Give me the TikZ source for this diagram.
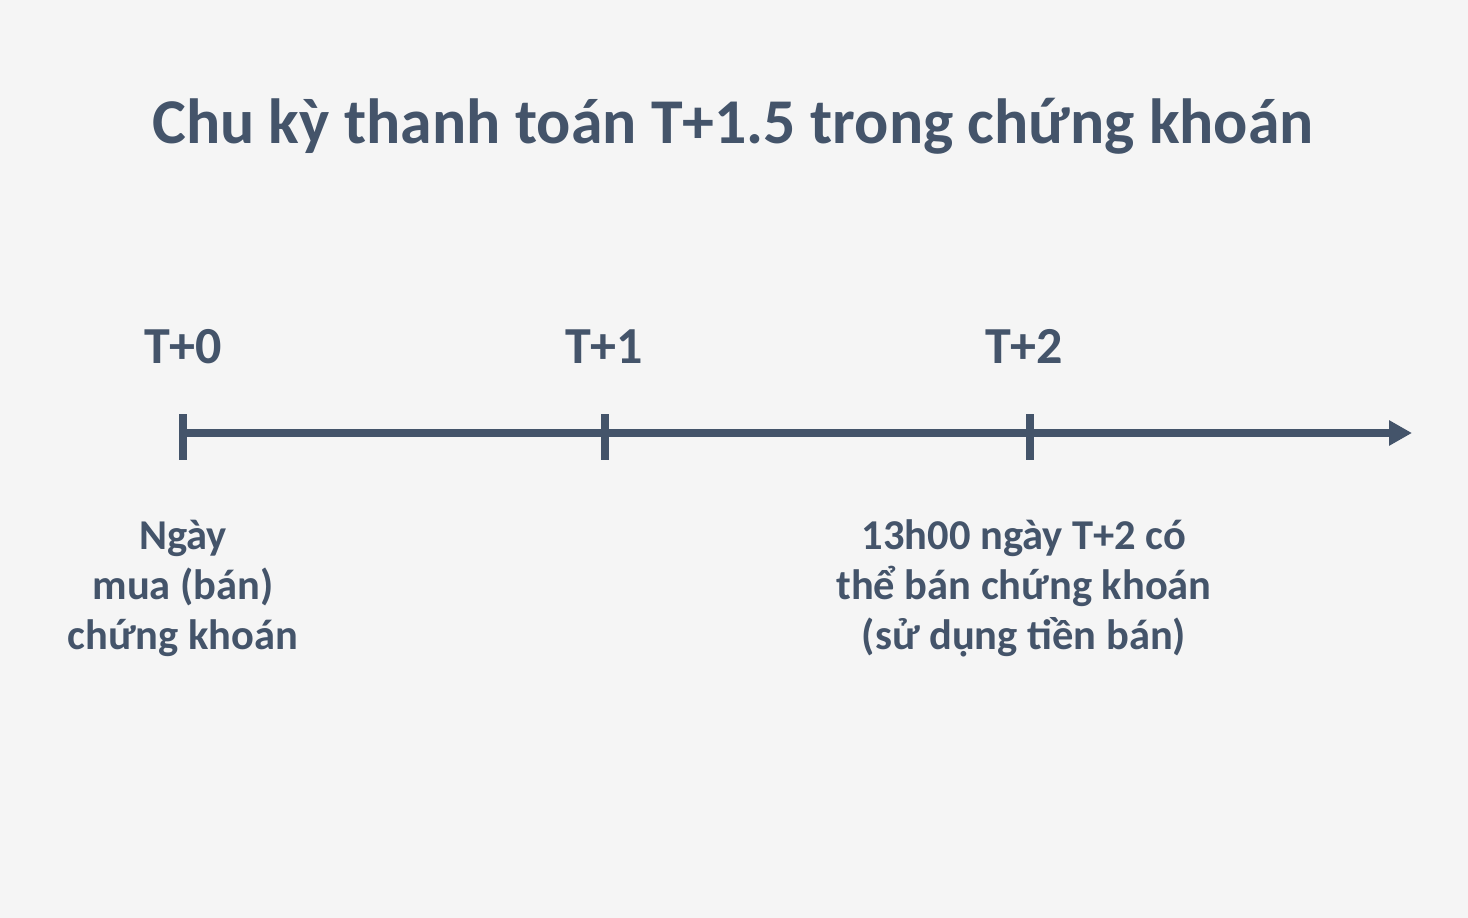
\documentclass[tikz,border=0pt]{standalone}
\usepackage{fontspec}
\setmainfont{Carlito}
\usetikzlibrary{arrows.meta}
\definecolor{ink}{HTML}{44546A}
\definecolor{bg}{HTML}{F5F5F5}
\tikzset{
  lbl/.style={text=ink, font=\bfseries\fontsize{42.5}{50}\selectfont, align=center, anchor=base, inner sep=0pt},
  tlbl/.style={text=ink, font=\bfseries\fontsize{52}{60}\selectfont, anchor=base, inner sep=0pt},
  ttl/.style={text=ink, font=\bfseries\fontsize{63.8}{72}\selectfont, anchor=base, inner sep=0pt},
  axis/.style={draw=ink, line width=8pt, -{Triangle[length=23pt,width=24pt]}},
  tick/.style={draw=ink, line width=8pt}
}
\begin{document}
\begin{tikzpicture}[x=1pt,y=-1pt]
\fill[bg] (0,0) rectangle (1468,918);
\useasboundingbox (0,0) rectangle (1468,918);
\node[ttl] (title) at (733,143) {Chu kỳ thanh toán T+1.5 trong chứng khoán};
\coordinate (p0) at (183,433);
\coordinate (p1) at (605,433);
\coordinate (p2) at (1030,433);
\coordinate (pend) at (1412,433);
\draw[axis] (p0) -- (pend);
\draw[tick] (183,414) -- (183,460);
\draw[tick] (605,414) -- (605,460);
\draw[tick] (1030,414) -- (1030,460);
\node[tlbl] (t0) at (183,363) {T+0};
\node[tlbl] (t1) at (604,363) {T+1};
\node[tlbl] (t2) at (1024,363) {T+2};
\node[lbl] (l0) at (183,649) {Ngày\\mua (bán)\\chứng khoán};
\node[lbl] (l2) at (1024,649) {13h00 ngày T+2 có\\thể bán chứng khoán\\(sử dụng tiền bán)};
\end{tikzpicture}
\end{document}
